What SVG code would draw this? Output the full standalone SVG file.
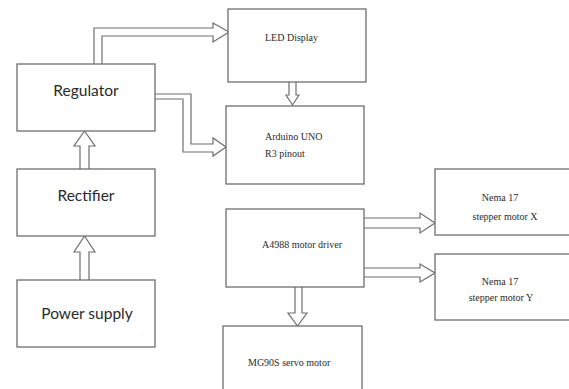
<svg xmlns="http://www.w3.org/2000/svg" width="569" height="389" viewBox="0 0 569 389">
<style>
.box{fill:#fff;stroke:#6e6e6e;stroke-width:1.3}
.arr{fill:#fff;stroke:#6e6e6e;stroke-width:1.2;stroke-linejoin:miter}
.sans{font-family:Lato,"Open Sans","Liberation Sans",sans-serif;font-size:15.5px;fill:#2a2a2a;text-anchor:middle}
.serif{font-family:"Liberation Serif","Times New Roman","DejaVu Serif",serif;font-size:10px;fill:#2a2a2a}
.mid{text-anchor:middle}
</style>
<rect width="569" height="389" fill="#fff"/>
<g id="connectors">
<path class="arr" d="M94,64 V28 H213 V23 L229,32 L213,42 V36 H102 V64"/>
<path class="arr" d="M155,94 H191 V144 H213 V138 L226,147 L213,156 V152 H183 V99 H155"/>
<path class="arr" d="M80,169 V146 H74 L84.5,131 L95,146 H89 V169"/>
<path class="arr" d="M80,280 V252 H74 L84.5,236 L95,252 H89 V280"/>
<path class="arr" d="M289,82 V95 H286 L292.5,105 L299,95 H296 V82"/>
<path class="arr" d="M295,287 V313 H288 L297.5,326 L307,313 H302 V287"/>
<path class="arr" d="M364,218 H420 V213 L435,223 L420,233 V228 H364"/>
<path class="arr" d="M364,268 H420 V264 L435,273 L420,282 V277 H364"/>
</g>
<g id="regulator"><rect class="box" x="17" y="64" width="138" height="67"/><text class="sans" x="86" y="96">Regulator</text></g>
<g id="rectifier"><rect class="box" x="17" y="169" width="138" height="67"/><text class="sans" x="86" y="201">Rectifier</text></g>
<g id="power-supply"><rect class="box" x="17" y="280" width="138" height="67"/><text class="sans" x="87" y="319">Power supply</text></g>
<g id="led-display"><rect class="box" x="228" y="9" width="138" height="73"/><text class="serif" x="265" y="41">LED Display</text></g>
<g id="arduino"><rect class="box" x="226" y="106" width="138" height="78"/><text class="serif" x="265" y="140">Arduino UNO</text><text class="serif" x="265" y="157">R3 pinout</text></g>
<g id="a4988"><rect class="box" x="226" y="209" width="138" height="78"/><text class="serif" x="262" y="248">A4988 motor driver</text></g>
<g id="mg90s"><rect class="box" x="223" y="326" width="139" height="80"/><text class="serif" x="248" y="366">MG90S servo motor</text></g>
<g id="nema-x"><rect class="box" x="435" y="169" width="150" height="66"/><text class="serif mid" x="500" y="201">Nema 17</text><text class="serif mid" x="505" y="220">stepper motor X</text></g>
<g id="nema-y"><rect class="box" x="435" y="254" width="150" height="66"/><text class="serif mid" x="500" y="285">Nema 17</text><text class="serif mid" x="501" y="301">stepper motor Y</text></g>
</svg>
